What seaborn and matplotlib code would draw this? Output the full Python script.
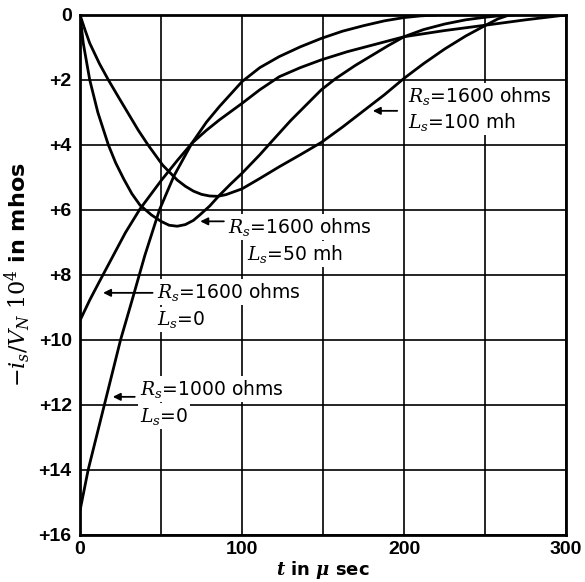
import numpy as np
import pandas as pd
import matplotlib
matplotlib.use('Agg')
import matplotlib.pyplot as plt
import seaborn as sns

# values: t in microseconds, -i_s/V_N * 10^4 in mhos
t_r1000 = [0, 5, 10, 15, 20, 25, 32, 40, 49, 58, 69, 78, 86, 100, 111, 123, 136, 149, 162, 175, 188, 200, 210, 220]
y_r1000 = [15.25, 14.0, 13.0, 12.0, 11.0, 10.0, 8.8, 7.4, 6.0, 4.95, 3.95, 3.3, 2.82, 2.05, 1.62, 1.28, 0.98, 0.72, 0.5, 0.33, 0.18, 0.08, 0.03, 0.0]

t_r1600 = [0, 6, 12, 20, 28, 37, 50, 60, 69, 78, 86, 100, 111, 123, 136, 149, 165, 181, 200, 225, 251, 275, 300]
y_r1600 = [9.4, 8.77, 8.2, 7.45, 6.7, 5.97, 5.1, 4.48, 3.95, 3.55, 3.23, 2.72, 2.3, 1.9, 1.62, 1.38, 1.13, 0.92, 0.67, 0.48, 0.31, 0.15, 0.0]

t_l50 = [0, 2, 6, 11, 17.5, 22, 27, 32, 37, 44, 50, 55, 60, 65, 70, 74, 80, 86, 93, 100, 111, 120, 130, 140, 149, 158, 170, 181, 190, 200, 212, 225, 238, 250, 260, 268]
y_l50 = [0, 0.87, 2.0, 3.0, 4.0, 4.55, 5.05, 5.5, 5.85, 6.15, 6.35, 6.47, 6.5, 6.45, 6.32, 6.15, 5.88, 5.55, 5.2, 4.87, 4.3, 3.8, 3.25, 2.75, 2.3, 1.95, 1.55, 1.22, 0.95, 0.67, 0.45, 0.28, 0.15, 0.07, 0.02, 0.0]

t_l100 = [0, 3, 6, 12, 17.5, 24, 30, 36, 42, 51, 60, 65, 70, 75, 80, 85, 90, 100, 111, 123, 136, 149, 162, 175, 188, 200, 212, 225, 238, 251, 258, 265]
y_l100 = [0, 0.45, 0.87, 1.5, 2.0, 2.55, 3.05, 3.55, 4.0, 4.62, 5.08, 5.27, 5.42, 5.52, 5.57, 5.58, 5.53, 5.35, 5.03, 4.67, 4.3, 3.92, 3.45, 2.95, 2.45, 1.95, 1.5, 1.05, 0.65, 0.3, 0.12, 0.0]

x_ticks = [0, 50, 100, 150, 200, 250, 300]
x_labels = ['0', '', '100', '', '200', '', '300']
y_ticks = [0, 2, 4, 6, 8, 10, 12, 14, 16]
y_labels = ['0', '+2', '+4', '+6', '+8', '+10', '+12', '+14', '+16']

sns.set_theme(style='white')
plt.rcParams['font.family'] = ['DejaVu Sans']
plt.rcParams['mathtext.fontset'] = 'custom'
plt.rcParams['mathtext.it'] = 'DejaVu Serif:italic'
plt.rcParams['mathtext.rm'] = 'DejaVu Serif'
plt.rcParams['mathtext.bf'] = 'DejaVu Serif:italic:bold'
for k in ['text.color', 'axes.labelcolor', 'xtick.color', 'ytick.color']:
    plt.rcParams[k] = 'black'

fig = plt.figure(figsize=(5.85, 5.82), dpi=100)
ax = fig.add_axes([0.1368, 0.0808, 0.8308, 0.8935])

for t, y in [(t_r1000, y_r1000), (t_r1600, y_r1600), (t_l50, y_l50), (t_l100, y_l100)]:
    sns.lineplot(x=t, y=y, ax=ax, color='black', lw=2.0, sort=False, zorder=3)

ax.set_xlim(0, 300)
ax.set_ylim(16, 0)
ax.set_xticks(x_ticks)
ax.set_xticklabels(x_labels, fontsize=14, fontweight='bold', family='Liberation Sans')
ax.set_yticks(y_ticks)
ax.set_yticklabels(y_labels, fontsize=14, fontweight='bold', family='Liberation Sans')
ax.tick_params(axis='x', length=0, pad=4)
ax.tick_params(axis='y', length=0, pad=6)
ax.grid(True, color='black', lw=1.2)
for s in ax.spines.values():
    s.set_color('black')
    s.set_linewidth(2)

ax.set_xlabel(r'$\mathbf{t}$ in $\mathbf{\mu}$ sec', fontsize=13, fontweight='bold', labelpad=1)
ax.set_ylabel(r'$-i_s/V_N\;10^4$ in mhos', fontsize=16, fontweight='bold', labelpad=4)

box = dict(facecolor='white', edgecolor='none', pad=1.5)
def label(x, y, s):
    ax.text(x, y, s, fontsize=13.5, ha='left', va='baseline', bbox=box, zorder=4)

def arrow(x0, x1, y):
    ax.annotate('', xy=(x1, y), xytext=(x0, y),
                arrowprops=dict(arrowstyle='-|>', color='black', lw=1.3, mutation_scale=11),
                zorder=4)

label(202.5, 2.67, r'$R_s$=1600 ohms')
label(202.5, 3.48, r'$L_s$=100 mh')
arrow(197.5, 179, 2.95)

label(91.4, 6.71, r'$R_s$=1600 ohms')
label(103, 7.54, r'$L_s$=50 mh')
arrow(90.5, 72.5, 6.35)

label(47.5, 8.72, r'$R_s$=1600 ohms')
label(47.5, 9.54, r'$L_s$=0')
arrow(46.5, 12.5, 8.55)

label(37, 11.69, r'$R_s$=1000 ohms')
label(37, 12.51, r'$L_s$=0')
arrow(35.5, 18.5, 11.75)

fig.savefig('out.png', dpi=100)
